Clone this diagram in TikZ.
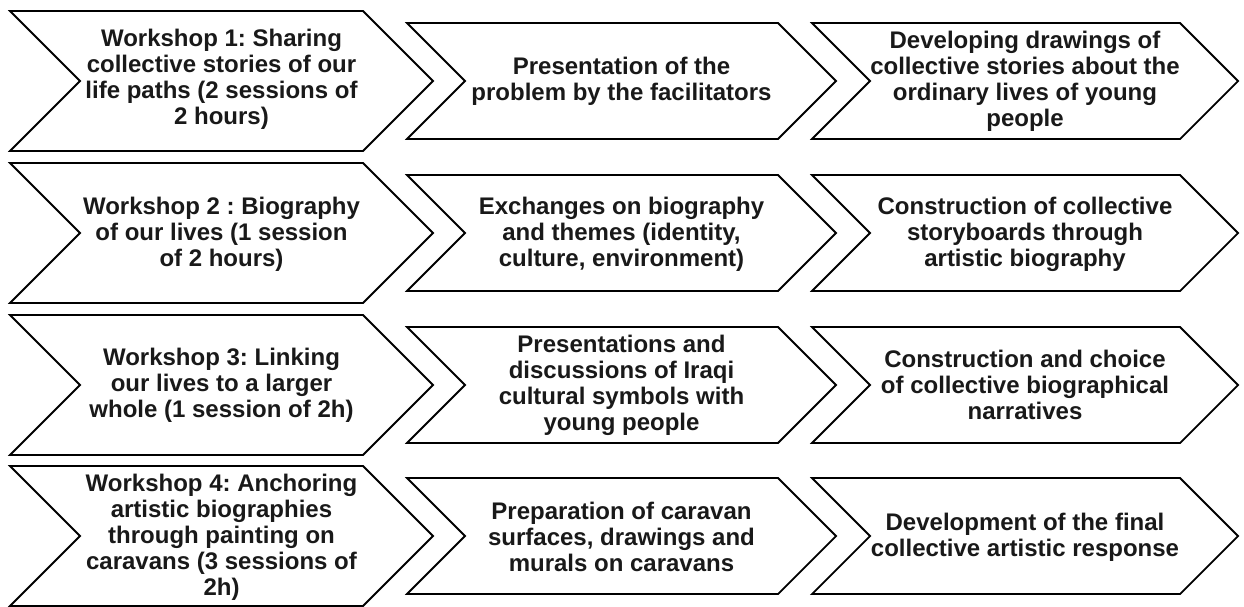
\documentclass[tikz,border=0pt]{standalone}
\usepackage{fontspec}
\setmainfont{Liberation Sans}
\frenchspacing
\begin{document}
\begin{tikzpicture}[x=1pt,y=-1pt,
  chevline/.style={draw=black,line width=1.8pt,line join=miter,fill=white},
  label/.style={font=\bfseries\fontsize{24}{26}\selectfont,align=center,text=black!90,inner sep=0pt}]
\useasboundingbox (0,0) rectangle (1244,606);
% \chevshape{x1}{x2}{yc}{h}
\newcommand{\chevshape}[4]{%
  \path[chevline] (#1,#3-#4) -- (#2-#4,#3-#4) -- (#2,#3) -- (#2-#4,#3+#4) -- (#1,#3+#4) -- (#1+#4,#3) -- cycle;}
\foreach \yc in {81,233,385,536}{
  \chevshape{10}{433}{\yc}{70}
  \chevshape{407}{836}{\yc}{58}
  \chevshape{812}{1238}{\yc}{58}
}
% Row 1
\node[label] (r1a) at (221.5,79) {Workshop 1: Sharing\\collective stories of our\\life paths (2 sessions of\\2 hours)};
\node[label] (r1b) at (621.5,81) {Presentation of the\\problem by the facilitators};
\node[label] (r1c) at (1025,81) {Developing drawings of\\collective stories about the\\ordinary lives of young\\people};
% Row 2
\node[label] (r2a) at (221.5,234) {Workshop 2 : Biography\\of our lives (1 session\\of 2 hours)};
\node[label] (r2b) at (621.5,234) {Exchanges on biography\\and themes (identity,\\culture, environment)};
\node[label] (r2c) at (1025,234) {Construction of collective\\storyboards through\\artistic biography};
% Row 3
\node[label] (r3a) at (221.5,385) {Workshop 3: Linking\\our lives to a larger\\whole (1 session of 2h)};
\node[label] (r3b) at (621.5,385) {Presentations and\\discussions of Iraqi\\cultural symbols with\\young people};
\node[label] (r3c) at (1025,385) {Construction and choice\\of collective biographical\\narratives};
% Row 4
\node[label] (r4a) at (221.5,537) {Workshop 4: Anchoring\\artistic biographies\\through painting on\\caravans (3 sessions of\\2h)};
\node[label] (r4b) at (621.5,537) {Preparation of caravan\\surfaces, drawings and\\murals on caravans};
\node[label] (r4c) at (1025,537) {Development of the final\\collective artistic response};
\end{tikzpicture}
\end{document}
